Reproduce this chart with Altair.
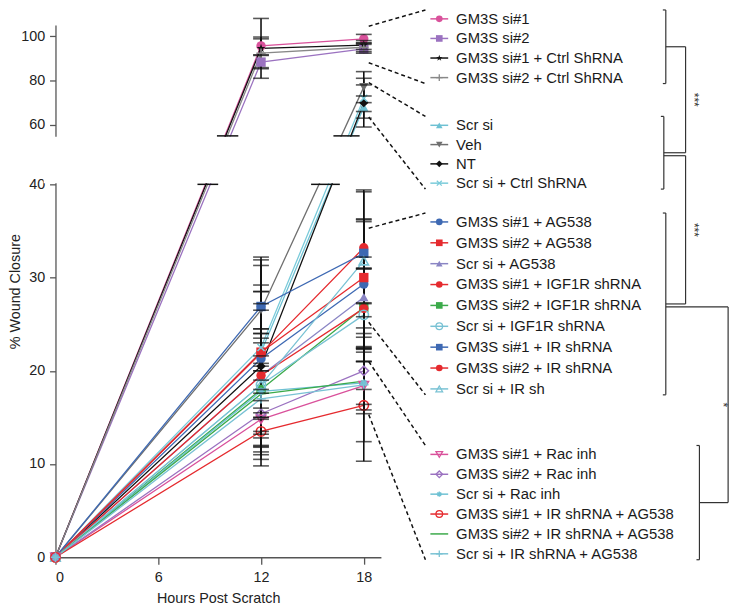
import altair as alt
import pandas as pd

# ---------------- data ----------------
series = [
    "GM3S si#1", "GM3S si#2", "GM3S si#1 + Ctrl ShRNA", "GM3S si#2 + Ctrl ShRNA",
    "Scr si", "Veh", "NT", "Scr si + Ctrl ShRNA",
    "GM3S si#1 + AG538", "GM3S si#2 + AG538", "Scr si + AG538",
    "GM3S si#1 + IGF1R shRNA", "GM3S si#2 + IGF1R shRNA", "Scr si + IGF1R shRNA",
    "GM3S si#1 + IR shRNA", "GM3S si#2 + IR shRNA", "Scr si + IR sh",
    "GM3S si#1 + Rac inh", "GM3S si#2 + Rac inh", "Scr si + Rac inh",
    "GM3S si#1 + IR shRNA + AG538", "GM3S si#2 + IR shRNA + AG538", "Scr si + IR shRNA + AG538",
]
cluster = [1, 1, 1, 1, 2, 2, 2, 2, 3, 3, 3, 3, 3, 3, 3, 3, 3, 4, 4, 4, 4, 4, 4]
hours = [0, 12, 18]
closure_0 = [0, 0, 0, 0, 0, 0, 0, 0, 0, 0, 0, 0, 0, 0, 0, 0, 0, 0, 0, 0, 0, 0, 0]
closure_12 = [95.6, 88.3, 94.5, 92.3, 22.0, 26.5, 20.5, 22.5, 21.3, 22.0, 19.5, 21.9,
              18.0, 18.5, 26.9, 19.5, 18.5, 14.8, 15.4, 17.8, 13.5, 17.5, 17.0]
closure_18 = [98.8, 94.3, 96.0, 95.0, 68.0, 77.0, 70.0, 72.0, 29.3, 30.0, 27.9, 33.2,
              26.8, 26.0, 32.6, 26.7, 31.8, 18.4, 20.0, 18.7, 16.3, 18.9, 18.5]
sem_12 = [4.0, 3.0, 13.5, 6.5, 2.0, 2.0, 2.5, 2.0, 10.0, 6.5, 7.7, 10.0,
          6.0, 5.0, 5.3, 9.7, 8.0, 2.0, 2.2, 3.0, 2.5, 2.5, 2.0]
sem_18 = [2.0, 2.0, 2.0, 2.0, 5.0, 7.0, 11.0, 6.0, 6.9, 6.0, 4.3, 6.0,
          4.2, 5.0, 6.8, 4.2, 4.5, 2.6, 2.0, 2.3, 6.0, 3.5, 6.1]
colors = ["#d9519b", "#9b72c0", "#111111", "#888888",
          "#6ec1d3", "#6f6f6f", "#111111", "#7acbda",
          "#3e69b3", "#e52a2e", "#8a85c4", "#e52a2e", "#3baa4a", "#79c2d4",
          "#3e69b3", "#e52a2e", "#79c2d4",
          "#d9519b", "#9b72c0", "#6ec1d3", "#e52a2e", "#3baa4a", "#79c2d4"]
STAR = "M0,-1L0.2245,-0.309L0.951,-0.309L0.363,0.118L0.588,0.809L0,0.382L-0.588,0.809L-0.363,0.118L-0.951,-0.309L-0.2245,-0.309Z"
PLUS = "M-1,0L1,0M0,-1L0,1"
XMARK = "M-0.75,-0.75L0.75,0.75M-0.75,0.75L0.75,-0.75"
ASTER = "M-0.8,0L0.8,0M0,-0.8L0,0.8M-0.55,-0.55L0.55,0.55M-0.55,0.55L0.55,-0.55"
shapes = ["circle", "square", STAR, PLUS,
          "triangle-up", "triangle-down", "diamond", XMARK,
          "circle", "square", "triangle-up", "circle", "square", "circle",
          "square", "circle", "triangle-up",
          "triangle-down", "diamond", ASTER, "circle", "none", PLUS]
open_marker = [False, False, False, True,
               False, False, False, True,
               False, False, False, False, False, True,
               False, False, True,
               True, True, True, True, False, True]

# significance tree between the four clusters
links = [(1, 2, 693, "***"), (2, 3, 693, "***"), (3, 4, 736, "*")]
# value range at 18 h that each cluster's leader lines point from
leader_hi = {1: 104.5, 2: 79.0, 3: 35.3, 4: 21.0}
leader_lo = {1: 88.0, 2: 63.5, 3: 25.2, 4: 15.3}

# ---------------- layout ----------------
W, H = 329, 538
PAD_L, PAD_T = 48, 14
OX0, OY0 = 8 + PAD_L, 8 + PAD_T
X_DOMAIN = [0, 19]
BREAK = (40, 55)
Y_DOMAIN = [0, BREAK[0], BREAK[1], 105]
Y_RANGE = [538, 161, 112, 0]
legend_first_row = {1: 15.7, 2: 123.3, 3: 221.0, 4: 456.0}
legend_row_step = {1: 19.8, 2: 19.5, 3: 21.1, 4: 20.1}
bracket_x = {1: 673, 2: 671, 3: 673, 4: 707}
LEG_LINE = (435, 453)
LEG_MARK = 444
LEG_TEXT = 461
LEADER_END_X = 430
RIGHT_EDGE = 738
FONT = "Liberation Sans"


def page_x(t):
    return OX0 + (t - X_DOMAIN[0]) / (X_DOMAIN[1] - X_DOMAIN[0]) * W


def page_y(v):
    n = len(Y_DOMAIN)
    for i in range(n - 1):
        d0, d1 = Y_DOMAIN[i], Y_DOMAIN[i + 1]
        if v <= d1 or i == n - 2:
            r0, r1 = Y_RANGE[i], Y_RANGE[i + 1]
            return OY0 + r0 + (v - d0) / (d1 - d0) * (r1 - r0)


# ---------------- tables ----------------
vals = [list(v) for v in zip(closure_0, closure_12, closure_18)]
sems = [list(v) for v in zip([0] * len(series), sem_12, sem_18)]
rows = []
for i, s in enumerate(series):
    for j, h in enumerate(hours):
        rows.append({"series": s, "order": i, "hour": h, "value": vals[i][j],
                     "lo": vals[i][j] - sems[i][j], "hi": vals[i][j] + sems[i][j],
                     "sem": sems[i][j], "color": colors[i], "shape": shapes[i],
                     "open": open_marker[i]})
df = pd.DataFrame(rows)
df_err = df[df["sem"] > 0]
df_fill = df[(~df["open"]) & (df["shape"] != "none")]
df_open = df[(df["open"]) & (df["shape"] != "none")]

# legend rows
leg = []
count = {}
for i, s in enumerate(series):
    g = cluster[i]
    k = count.get(g, 0)
    count[g] = k + 1
    leg.append({"series": s, "group": g, "y": legend_first_row[g] + k * legend_row_step[g],
                "color": colors[i], "shape": shapes[i], "open": open_marker[i],
                "x0": LEG_LINE[0], "x1": LEG_LINE[1], "xm": LEG_MARK, "xt": LEG_TEXT})
leg = pd.DataFrame(leg)

# cluster brackets
brk = {}
segs = []
for g in sorted(set(cluster)):
    ys = leg[leg["group"] == g]["y"]
    top, bot = ys.min() - 9, ys.max() + 6
    brk[g] = (top, bot)
    xb = bracket_x[g]
    segs += [{"x": xb, "x2": xb, "y": top, "y2": bot},
             {"x": xb - 3, "x2": xb, "y": top, "y2": top},
             {"x": xb - 3, "x2": xb, "y": bot, "y2": bot}]
labels = []
used_lower = set()
for up, low, xl, lab in links:
    yt = (brk[up][0] + brk[up][1]) / 2 + (3 if up in used_lower else 0)
    yb = (brk[low][0] + brk[low][1]) / 2
    used_lower.add(low)
    segs += [{"x": bracket_x[up], "x2": xl, "y": yt, "y2": yt},
             {"x": xl, "x2": xl, "y": yt, "y2": yb},
             {"x": bracket_x[low], "x2": xl, "y": yb, "y2": yb}]
    lx = xl + 8 if xl + 12 < RIGHT_EDGE else xl - 5
    labels.append({"x": lx, "y": (yt + yb) / 2, "text": lab})
segs = pd.DataFrame(segs)
labels = pd.DataFrame(labels)

# dashed leaders from the 18 h clusters to the legend blocks
lead = []
for g in sorted(set(cluster)):
    lead.append({"x": page_x(18) + 5, "y": page_y(leader_hi[g]), "x2": LEADER_END_X, "y2": brk[g][0]})
    lead.append({"x": page_x(18) + 5, "y": page_y(leader_lo[g]), "x2": LEADER_END_X, "y2": brk[g][1]})
lead = pd.DataFrame(lead)

# axis break: mask + caps where the line bundles cross it
mask = pd.DataFrame([{"x": OX0 - 12, "x2": OX0 + W + 8,
                      "y": page_y(BREAK[1]) + 1, "y2": page_y(BREAK[0]) - 1}])
caps = []
for seg in range(len(hours) - 1):
    for edge in BREAK:
        xs = []
        for s in range(len(series)):
            v0, v1 = vals[s][seg], vals[s][seg + 1]
            if v0 < BREAK[0] and v1 > BREAK[1]:
                x0, y0 = page_x(hours[seg]), page_y(v0)
                x1, y1 = page_x(hours[seg + 1]), page_y(v1)
                ye = page_y(edge)
                f = (y0 - ye) / (y0 - y1)
                xs.append(x0 + f * (x1 - x0))
        if xs:
            caps.append({"x": min(xs) - 8, "x2": max(xs) + 8, "y": page_y(edge)})
caps = pd.DataFrame(caps)

# ---------------- plot layers ----------------
axis_x = alt.Axis(values=hours + [6], title="Hours Post Scratch", tickSize=7, labelPadding=7,
                  titlePadding=7)
axis_y = alt.Axis(values=[0, 10, 20, 30, 40, 60, 80, 100], title="% Wound Closure", tickSize=6,
                  labelPadding=5, titleX=-33, titleY=H / 2, titleAngle=270, titleBaseline="bottom")
XS = alt.Scale(domain=X_DOMAIN, nice=False, zero=False)
YS = alt.Scale(domain=Y_DOMAIN, range=Y_RANGE, nice=False, zero=False)


def PX():
    return alt.X("hour:Q", scale=XS, axis=axis_x)


def PY(f):
    return alt.Y(f + ":Q", scale=YS, axis=axis_y)


lines = alt.Chart(df).mark_line(strokeWidth=1.3).encode(
    x=PX(), y=PY("value"), color=alt.Color("color:N", scale=None),
    detail="series:N", order="hour:Q")
err = alt.Chart(df_err).mark_rule(color="#111111", strokeWidth=1.6).encode(
    x=PX(), y=PY("lo"), y2="hi:Q")
pts_f = alt.Chart(df_fill).mark_point(filled=True, size=90, opacity=1).encode(
    x=PX(), y=PY("value"), color=alt.Color("color:N", scale=None),
    shape=alt.Shape("shape:N", scale=None))
pts_o = alt.Chart(df_open).mark_point(filled=False, size=90, opacity=1, strokeWidth=1.6).encode(
    x=PX(), y=PY("value"), color=alt.Color("color:N", scale=None),
    shape=alt.Shape("shape:N", scale=None))
cap_hi = alt.Chart(df_err).mark_tick(color="#111111", orient="horizontal", size=16, thickness=1.6).encode(
    x=PX(), y=PY("hi"))
cap_lo = alt.Chart(df_err).mark_tick(color="#111111", orient="horizontal", size=16, thickness=1.6).encode(
    x=PX(), y=PY("lo"))
plot = alt.layer(lines, err, pts_f, pts_o, cap_hi, cap_lo)

# ---------------- overlay (page coordinates) ----------------
OXS = alt.Scale(domain=[OX0, OX0 + W], nice=False, zero=False)
OYS = alt.Scale(domain=[OY0, OY0 + H], reverse=True, nice=False, zero=False)


def QX(f):
    return alt.X(f + ":Q", scale=OXS, axis=None)


def QY(f):
    return alt.Y(f + ":Q", scale=OYS, axis=None)


o_mask = alt.Chart(mask).mark_rect(color="white").encode(x=QX("x"), x2="x2:Q", y=QY("y"), y2="y2:Q")
o_caps = alt.Chart(caps).mark_rule(color="#111111", strokeWidth=1.5).encode(
    x=QX("x"), x2="x2:Q", y=QY("y"))
o_lead = alt.Chart(lead).mark_rule(color="#111111", strokeWidth=1.5, strokeDash=[4, 3]).encode(
    x=QX("x"), x2="x2:Q", y=QY("y"), y2="y2:Q")
o_tree = alt.Chart(segs).mark_rule(color="#333333", strokeWidth=1.2).encode(
    x=QX("x"), x2="x2:Q", y=QY("y"), y2="y2:Q")
o_lab = alt.Chart(labels).mark_text(font=FONT, fontSize=12, angle=90, align="center",
                                    baseline="middle", color="#333333").encode(
    x=QX("x"), y=QY("y"), text="text:N")
o_legline = alt.Chart(leg).mark_rule(strokeWidth=1.5).encode(
    x=QX("x0"), x2="x1:Q", y=QY("y"), color=alt.Color("color:N", scale=None))
o_legpf = alt.Chart(leg[(~leg["open"]) & (leg["shape"] != "none")]).mark_point(
    filled=True, size=45, opacity=1).encode(
    x=QX("xm"), y=QY("y"), color=alt.Color("color:N", scale=None),
    shape=alt.Shape("shape:N", scale=None))
o_legpo = alt.Chart(leg[(leg["open"]) & (leg["shape"] != "none")]).mark_point(
    filled=False, size=45, opacity=1, strokeWidth=1.3).encode(
    x=QX("xm"), y=QY("y"), color=alt.Color("color:N", scale=None),
    shape=alt.Shape("shape:N", scale=None))
o_legtext = alt.Chart(leg).mark_text(font=FONT, fontSize=15, align="left", baseline="middle",
                                     color="#1a1a1a").encode(
    x=QX("xt"), y=QY("y"), text="series:N")
overlay = alt.layer(o_mask, o_caps, o_lead, o_tree, o_lab, o_legline, o_legpf, o_legpo, o_legtext)

chart = alt.layer(plot, overlay).resolve_scale(x="independent", y="independent").properties(
    width=W, height=H,
    autosize=alt.AutoSizeParams(type="none"),
    padding={"left": PAD_L, "top": PAD_T, "right": 747 - 8 - PAD_L - W, "bottom": 607 - 8 - PAD_T - H},
).configure_view(stroke=None).configure_axis(
    grid=False, domainColor="#555555", tickColor="#555555", domainWidth=1.3, tickWidth=1.3,
    labelFont=FONT, titleFont=FONT, labelFontSize=14.5, titleFontSize=14.5,
    titleFontWeight="normal", labelColor="#222222", titleColor="#222222")

chart.save("out.html", embed_options={"renderer": "svg", "actions": False})
